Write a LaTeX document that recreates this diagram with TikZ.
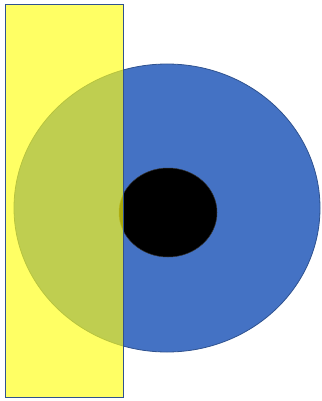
\documentclass[tikz,border=0pt]{standalone}
\usepackage{xcolor}
\usepackage{tikz}
\usetikzlibrary{shapes.geometric}
\definecolor{discblue}{HTML}{4472C4}
\definecolor{edgeblue}{HTML}{2F528F}
\definecolor{baryellow}{HTML}{FFFF14}
\tikzset{
  disc/.style={ellipse, draw=edgeblue, line width=0.8pt, inner sep=0pt},
  core/.style={ellipse, fill=black, draw=black!80, line width=0.5pt, inner sep=0pt},
  bar/.style={draw=edgeblue, line width=0.8pt, fill=baryellow, fill opacity=0.66, inner sep=0pt}
}

\begin{document}
\begin{tikzpicture}[x=1pt, y=-1pt]
  \useasboundingbox (0,0) rectangle (321,401);
  \node[disc, fill=discblue, minimum width=306pt, minimum height=288pt] (outer) at (167,208) {};
  \node[core, minimum width=98pt, minimum height=89pt] (inner) at (168,212.5) {};
  \node[bar, minimum width=117.5pt, minimum height=393pt] (strip) at (64.25,200.5) {};
\end{tikzpicture}
\end{document}
